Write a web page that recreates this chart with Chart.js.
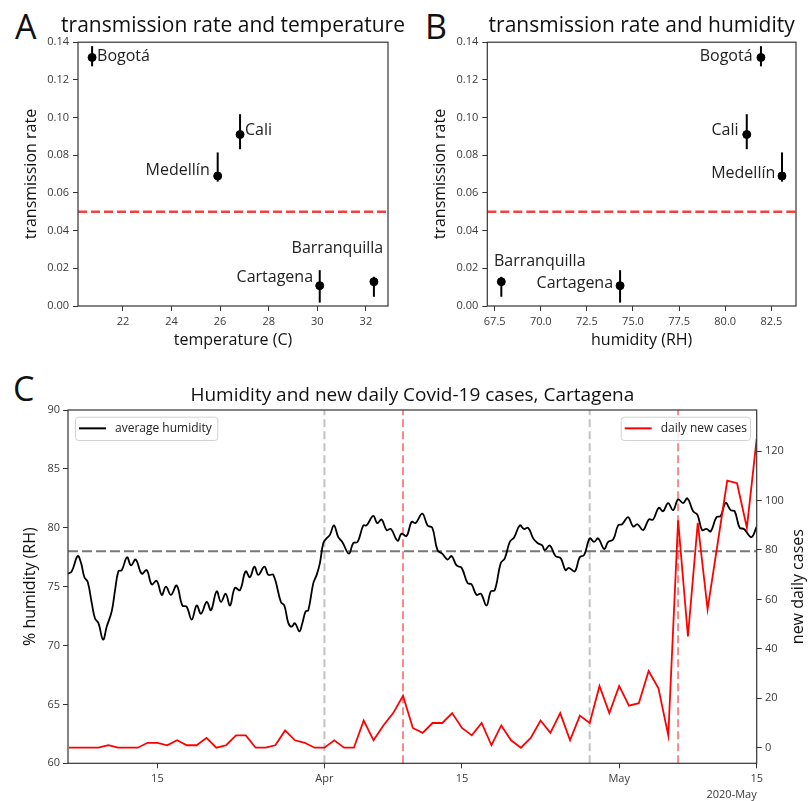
<!DOCTYPE html>
<html><head><meta charset="utf-8">
<script src="https://cdn.jsdelivr.net/npm/chart.js@4.4.1/dist/chart.umd.min.js"></script>
<style>
html,body{margin:0;padding:0;background:#fff}
body{width:809px;height:801px;position:relative;overflow:hidden;font-family:'Open Sans',sans-serif}
canvas{position:absolute}
.lbl{position:absolute;font-size:34px;line-height:1;color:#111;font-family:'Open Sans',sans-serif}
</style></head><body>
<div class="lbl" style="left:15px;top:9px">A</div>
<div class="lbl" style="left:425px;top:9px">B</div>
<div class="lbl" style="left:13px;top:371px">C</div>
<canvas id="cA" width="420" height="350" style="left:0;top:0"></canvas>
<canvas id="cB" width="409" height="350" style="left:400px;top:0"></canvas>
<canvas id="cC" width="809" height="441" style="left:0;top:360px"></canvas>
<script>
// ---------------- DATA ----------------
const cities = ['Bogotá','Cali','Medellín','Cartagena','Barranquilla'];
const rate = [0.1319,0.0910,0.0690,0.0108,0.0129];
const rateLow = [0.1272,0.0832,0.0660,0.0018,0.0049];
const rateHigh = [0.1379,0.1018,0.0815,0.0190,0.0155];
const cityTemperature = [20.73,26.82,25.90,30.10,32.33];
const cityHumidity = [81.94,81.17,83.08,74.30,67.86];
const rateThreshold = 0.05;
const rateTicks = [0,0.02,0.04,0.06,0.08,0.10,0.12,0.14];
const tempTicks = [22,24,26,28,30,32];
const humTicks = [67.5,70,72.5,75,77.5,80,82.5];

// Panel C: x = day number counted from 1 March 2020 (day 0)
const humidityDays = [4.9,5.28,5.89,6.23,6.57,6.91,7.32,7.65,8.0,8.47,8.84,9.35,9.69,10.03,10.37,10.91,11.31,11.79,12.4,12.91,13.42,13.93,14.44,14.87,15.38,15.96,16.54,16.98,17.49,18.0,18.44,19.02,19.45,20.03,20.47,20.95,21.39,21.89,22.4,22.98,23.42,23.87,24.27,24.89,25.29,25.8,26.57,26.92,27.33,27.66,28.0,28.45,28.75,29.09,29.36,29.87,30.21,30.54,30.89,31.22,31.56,31.97,32.41,32.82,33.49,33.94,34.38,34.96,35.29,35.97,36.38,36.82,37.33,37.76,38.45,38.85,39.36,39.87,40.28,40.96,41.5,41.98,42.51,42.99,43.53,43.94,44.45,44.96,45.57,45.97,46.48,46.92,47.5,47.94,48.34,48.95,49.36,49.87,50.32,50.89,51.3,51.74,52.25,52.69,53.17,53.43,53.94,54.52,55.06,55.54,55.87,56.48,56.99,57.44,58.01,58.45,58.86,59.47,59.88,60.39,60.9,61.3,61.91,62.42,62.86,63.44,64.01,64.46,65.03,65.47,65.98,66.49,67.0,67.51,67.95,68.53,68.97,69.44,69.88,70.32,70.9,71.33,71.84,72.35,72.76,73.27,73.71,74.46,75.0];
const humidityValues = [76.1,76.3,77.6,77.0,75.8,75.4,73.6,72.3,71.9,70.5,71.6,72.9,74.7,76.3,76.4,77.5,76.8,77.3,76.1,76.4,75.2,75.5,74.3,75.0,74.3,75.1,73.4,73.3,72.2,73.4,72.7,73.7,73.0,74.6,73.7,74.4,73.4,74.9,74.7,76.3,75.8,76.7,76.0,76.7,76.0,76.0,73.7,73.4,71.9,71.6,71.9,71.2,71.9,72.9,73.0,75.3,76.0,77.0,78.7,79.1,79.4,80.2,79.2,78.8,77.8,78.7,78.8,80.2,80.2,81.0,80.4,80.7,79.8,79.9,78.9,79.5,79.3,80.5,80.4,81.2,80.2,80.0,78.1,77.8,77.3,77.6,76.8,76.6,75.3,75.2,74.3,74.4,73.4,74.6,74.7,77.0,77.4,78.8,79.2,80.2,79.9,80.0,79.1,78.7,78.5,78.1,78.5,77.6,77.4,76.4,76.6,76.3,77.5,77.7,79.1,78.8,79.1,78.2,78.8,79.0,80.2,80.3,80.9,80.1,80.3,79.8,80.7,80.7,81.7,81.4,82.1,81.5,82.4,82.1,82.5,81.4,81.1,79.8,79.9,79.7,80.9,81.0,82.1,81.5,81.4,80.0,79.9,79.2,80.1];
const caseStartDay = 5; // 6 March
const dailyCases = [0,0,0,0,1,0,0,0,2,2, 1,3,1,1,4,0,1,5,5,0, 0,1,7,3,2,0,0,3,0,0, 11,3,9,14,21,8,6,10,10,14, 8,5,10,1,9,3,0,4,11,6, 14,3,13,10,25,14,25,17,18,31, 24,5,92,45,91,56,82,108,107,89, 125];
const grayEventDays = [31,58];
const redEventDays = [39,67];
const humidityThreshold = 78;
const dayTicks = [14,31,45,61,75];
const dayTickLabels = ['15','Apr','15','May','15'];
const humAxisTicks = [60,65,70,75,80,85,90];
const caseAxisTicks = [0,20,40,60,80,100,120];

// ---------------- STYLE ----------------
const FONT = "'Open Sans', sans-serif";
const TICKC = '#3a3a3a';
const SPINE = '#333';
Chart.defaults.font.family = FONT;

const frame = {
  id:'frame',
  afterDraw(chart){
    const {ctx, chartArea:a} = chart;
    ctx.save(); ctx.strokeStyle = SPINE; ctx.lineWidth = 1.2;
    ctx.strokeRect(a.left, a.top, a.right-a.left, a.bottom-a.top);
    ctx.restore();
  }
};
const panelTitle = {
  id:'panelTitle',
  afterDraw(chart, args, opts){
    const {ctx, chartArea:a} = chart;
    ctx.save(); ctx.fillStyle='#111'; ctx.font = opts.size + 'px ' + FONT;
    ctx.textAlign='center'; ctx.textBaseline='middle';
    ctx.fillText(opts.text, (a.left+a.right)/2, opts.y);
    ctx.restore();
  }
};
const errorBars = {
  id:'errorBars',
  beforeDatasetsDraw(chart, args, opts){
    const {ctx} = chart; const xs = chart.scales.x, ys = chart.scales.y;
    ctx.save(); ctx.strokeStyle='#000'; ctx.lineWidth=2;
    opts.xVals.forEach((xv,i)=>{
      const px = xs.getPixelForValue(xv);
      ctx.beginPath();
      ctx.moveTo(px, ys.getPixelForValue(rateLow[i]));
      ctx.lineTo(px, ys.getPixelForValue(rateHigh[i]));
      ctx.stroke();
    });
    ctx.restore();
  }
};
const cityLabels = {
  id:'cityLabels',
  afterDatasetsDraw(chart, args, opts){
    const {ctx} = chart; const xs = chart.scales.x, ys = chart.scales.y;
    ctx.save(); ctx.fillStyle='#222'; ctx.font = "16px " + FONT; ctx.textBaseline='middle';
    opts.xVals.forEach((xv,i)=>{
      const o = opts.offsets[cities[i]];
      ctx.textAlign = o[2];
      ctx.fillText(cities[i], xs.getPixelForValue(xv)+o[0], ys.getPixelForValue(rate[i])+o[1]);
    });
    ctx.restore();
  }
};

function fixedTicks(arr){ return s => { s.ticks = arr.map(v=>({value:v})); }; }

function scatterPanel(id, xVals, cfg){
  return new Chart(document.getElementById(id), {
    type:'scatter',
    data:{datasets:[
      {type:'scatter', data:xVals.map((x,i)=>({x:x,y:rate[i]})), pointRadius:4, pointHoverRadius:4, borderWidth:1, backgroundColor:'#000', borderColor:'#000', order:0},
      {type:'line', data:[{x:cfg.xmin,y:rateThreshold},{x:cfg.xmax,y:rateThreshold}], showLine:true, borderColor:'rgba(240,45,45,0.9)', borderWidth:2.4, borderDash:[9,4], pointRadius:0, order:2}
    ]},
    options:{
      responsive:false, animation:false, devicePixelRatio:1,
      layout:{padding:{left:0,right:cfg.padRight,top:42.2,bottom:0}},
      plugins:{
        legend:{display:false}, tooltip:{enabled:false}, title:{display:false},
        panelTitle:{text:cfg.title, size:21, y:25.8},
        errorBars:{xVals:xVals}, cityLabels:{xVals:xVals, offsets:cfg.offsets}
      },
      scales:{
        x:{type:'linear', min:cfg.xmin, max:cfg.xmax, afterBuildTicks:fixedTicks(cfg.ticks), afterFit:s=>{s.height=44;},
           ticks:{color:TICKC, font:{size:11}, padding:4, maxRotation:0, autoSkip:false, callback:cfg.fmt},
           grid:{drawOnChartArea:false, tickLength:5, color:SPINE, tickWidth:1}, border:{display:false},
           title:{display:true, text:cfg.xTitle, color:'#111', font:{size:16, lineHeight:1.2}, padding:{top:0,bottom:0.4}}},
        y:{type:'linear', min:0, max:0.14, afterBuildTicks:fixedTicks(rateTicks), afterFit:s=>{s.width=cfg.yWidth;},
           ticks:{color:TICKC, font:{size:11}, padding:4, autoSkip:false, callback:v=>v.toFixed(2)},
           grid:{drawOnChartArea:false, tickLength:5, color:SPINE, tickWidth:1}, border:{display:false},
           title:{display:true, text:'transmission rate', color:'#111', font:{size:16, lineHeight:1.2}, padding:{top:cfg.yTitlePad,bottom:0}}}
      }
    },
    plugins:[frame, panelTitle, errorBars, cityLabels]
  });
}

scatterPanel('cA', cityTemperature, {
  xmin:20.15, xmax:32.91, ticks:tempTicks, fmt:v=>String(v), padRight:32, yWidth:78, yTitlePad:22.1,
  title:'transmission rate and temperature', xTitle:'temperature (C)',
  offsets:{'Bogotá':[5,-1,'left'], 'Cali':[5,-4,'left'], 'Medellín':[-8,-6,'right'], 'Cartagena':[-6.7,-8,'right'], 'Barranquilla':[9.3,-33,'right']}
});
scatterPanel('cB', cityHumidity, {
  xmin:67.10, xmax:83.84, ticks:humTicks, fmt:v=>v.toFixed(1), padRight:13, yWidth:87.3, yTitlePad:30.4,
  title:'transmission rate and humidity', xTitle:'humidity (RH)',
  offsets:{'Bogotá':[-8.4,-1,'right'], 'Cali':[-8.3,-4,'right'], 'Medellín':[-6.7,-2.4,'right'], 'Cartagena':[-7,-2.4,'right'], 'Barranquilla':[-7.4,-20.7,'left']}
});

// ---------------- PANEL C ----------------
const X0 = 4.9, X1 = 75, H0 = 60, H1 = 90;
const legendsC = {
  id:'legendsC',
  afterDraw(chart){
    const {ctx, chartArea:a} = chart;
    const boxes = [
      {x:a.left+7, w:142.3, color:'#000', text:'average humidity'},
      {x:a.right-6.7-129.3, w:129.3, color:'#ff0000', text:'daily new cases'}
    ];
    ctx.save();
    boxes.forEach(b=>{
      const y = a.top+6.7, h = 23.3, r = 3;
      ctx.beginPath(); ctx.roundRect(b.x+0.5, y+0.5, b.w, h, r);
      ctx.fillStyle='rgba(255,255,255,0.85)'; ctx.fill();
      ctx.strokeStyle='#d2d2d2'; ctx.lineWidth=1; ctx.stroke();
      ctx.beginPath(); ctx.moveTo(b.x+4, y+h/2); ctx.lineTo(b.x+31, y+h/2);
      ctx.strokeStyle=b.color; ctx.lineWidth=2; ctx.stroke();
      ctx.fillStyle='#222'; ctx.font='12px '+FONT; ctx.textAlign='left'; ctx.textBaseline='middle';
      ctx.fillText(b.text, b.x+40, y+h/2);
    });
    // offset text of date axis
    ctx.font='11px '+FONT; ctx.fillStyle=TICKC; ctx.textAlign='right'; ctx.textBaseline='middle';
    ctx.fillText('2020-May', a.right, 435);
    // right axis title (reads bottom to top)
    ctx.translate(798, (a.top+a.bottom)/2); ctx.rotate(-Math.PI/2);
    ctx.font='16px '+FONT; ctx.fillStyle='#111'; ctx.textAlign='center';
    ctx.fillText('new daily cases', 0, 0);
    ctx.restore();
  }
};

const vline = (d, color) => ({data:[{x:d,y:H0},{x:d,y:H1}], yAxisID:'y', borderColor:color, borderWidth:2, borderDash:[8,4], pointRadius:0, order:3});

new Chart(document.getElementById('cC'), {
  type:'line',
  data:{datasets:[
    {label:'daily new cases', data:dailyCases.map((v,i)=>({x:caseStartDay+i, y:v})), yAxisID:'y1', borderColor:'#ff0000', borderWidth:1.8, pointRadius:0, tension:0, order:0},
    {label:'average humidity', data:humidityDays.map((d,i)=>({x:d, y:humidityValues[i]})), yAxisID:'y', borderColor:'#000', borderWidth:1.8, pointRadius:0, tension:0.4, order:1},
    {data:[{x:X0,y:humidityThreshold},{x:X1,y:humidityThreshold}], yAxisID:'y', borderColor:'rgba(105,105,105,0.9)', borderWidth:2, borderDash:[10,4], pointRadius:0, order:2},
    ...grayEventDays.map(d=>vline(d,'rgba(175,175,175,0.75)')),
    ...redEventDays.map(d=>vline(d,'rgba(240,90,90,0.7)'))
  ]},
  options:{
    responsive:false, animation:false, devicePixelRatio:1,
    layout:{padding:{top:50,left:0,right:0,bottom:0}},
    plugins:{
      legend:{display:false}, tooltip:{enabled:false}, title:{display:false},
      panelTitle:{text:'Humidity and new daily Covid-19 cases, Cartagena', size:19, y:35.3}
    },
    scales:{
      x:{type:'linear', min:X0, max:X1, afterBuildTicks:fixedTicks(dayTicks), afterFit:s=>{s.height=37.7;},
         ticks:{color:TICKC, font:{size:11}, padding:3.5, maxRotation:0, autoSkip:false, callback:v=>dayTickLabels[dayTicks.indexOf(v)]},
         grid:{drawOnChartArea:false, tickLength:5, color:SPINE}, border:{display:false}},
      y:{type:'linear', position:'left', min:H0, max:H1, afterBuildTicks:fixedTicks(humAxisTicks), afterFit:s=>{s.width=68;},
         ticks:{color:TICKC, font:{size:11}, padding:3, autoSkip:false},
         grid:{drawOnChartArea:false, tickLength:5, color:SPINE}, border:{display:false},
         title:{display:true, text:'% humidity (RH)', color:'#111', font:{size:16, lineHeight:1.2}, padding:{top:20.4,bottom:0}}},
      y1:{type:'linear', position:'right', min:-6.3, max:136.6, afterBuildTicks:fixedTicks(caseAxisTicks), afterFit:s=>{s.width=52.3;},
         ticks:{color:TICKC, font:{size:11}, padding:3.3, autoSkip:false},
         grid:{drawOnChartArea:false, tickLength:5, color:SPINE}, border:{display:false}}
    }
  },
  plugins:[frame, panelTitle, legendsC]
});
</script>
</body></html>
